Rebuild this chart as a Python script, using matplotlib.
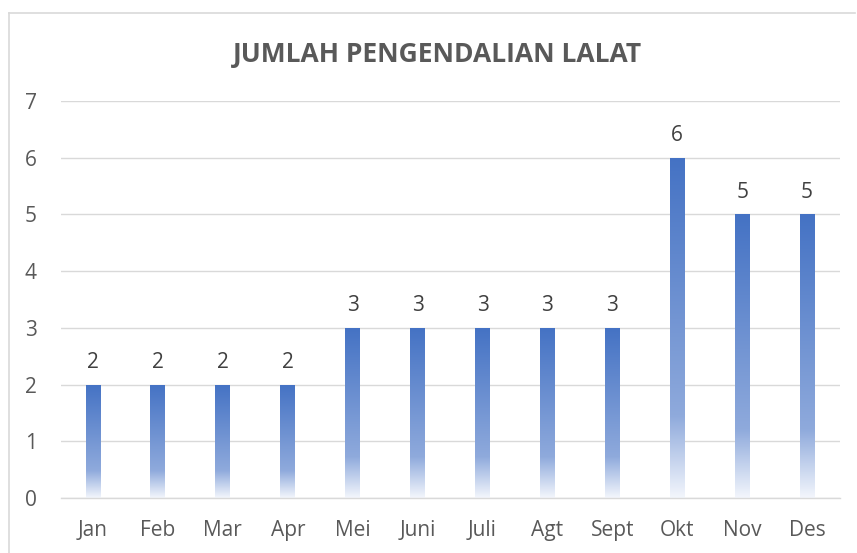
import numpy as np
import matplotlib
matplotlib.use('Agg')
import matplotlib.pyplot as plt
from matplotlib.colors import LinearSegmentedColormap
from matplotlib.lines import Line2D

#data
months = ['Jan', 'Feb', 'Mar', 'Apr', 'Mei', 'Juni', 'Juli', 'Agt', 'Sept', 'Okt', 'Nov', 'Des']
values = [2, 2, 2, 2, 3, 3, 3, 3, 3, 6, 5, 5]
yticks = [0, 1, 2, 3, 4, 5, 6, 7]

plt.rcParams['font.family'] = ['Open Sans', 'DejaVu Sans']
txt = '#595959'
grid_col = '#D9D9D9'

fig = plt.figure(figsize=(8.57, 5.53), dpi=100)
ax = fig.add_axes([0.0707, 0.0995, 0.9089, 0.7179])

# gradient like excel: dark blue at top, light at ~76%, almost white at base
cmap = LinearSegmentedColormap.from_list('grad', [(0, '#4472C4'), (0.76, '#8FAADC'), (1.0, '#F3F6FC')])
grad = np.linspace(0, 1, 256).reshape(-1, 1)

x = np.arange(len(months))
bars = ax.bar(x, values, width=0.23, color='none', edgecolor='none', zorder=2)
for b, v in zip(bars, values):
    x0 = b.get_x()
    w = b.get_width()
    im = ax.imshow(grad, cmap=cmap, aspect='auto', extent=[x0, x0 + w, 0, b.get_height()],
                   origin='upper', zorder=2, interpolation='bilinear')
    im.set_clip_path(b)
    ax.text(b.get_x() + w / 2, v + 0.29, str(v), ha='center', va='baseline', fontsize=15, color='#404040')

ax.set_xlim(-0.5, len(months) - 0.5)
ax.set_ylim(0, 7)
ax.set_yticks(yticks)
ax.set_xticks(x)
ax.set_xticklabels(months)
ax.grid(axis='y', color=grid_col, linewidth=1.0, zorder=0)
ax.set_axisbelow(True)
for s in ['top', 'right', 'left']:
    ax.spines[s].set_visible(False)
ax.spines['bottom'].set_color(grid_col)
ax.spines['bottom'].set_linewidth(1.0)
ax.tick_params(axis='both', length=0, labelsize=15, colors=txt)
ax.tick_params(axis='y', pad=17)
ax.tick_params(axis='x', pad=16)

fig.text(0.51, 0.888, 'JUMLAH PENGENDALIAN LALAT', ha='center', va='baseline',
         fontsize=19, fontweight='bold', color=txt)

# chart border (left and top only visible in the crop)
fig.add_artist(Line2D([0.0105, 0.0105], [0, 0.977], color='#D9D9D9', linewidth=1.2, transform=fig.transFigure))
fig.add_artist(Line2D([0.0105, 0.998], [0.977, 0.977], color='#D9D9D9', linewidth=1.2, transform=fig.transFigure))

plt.savefig('out.png', dpi=100)
